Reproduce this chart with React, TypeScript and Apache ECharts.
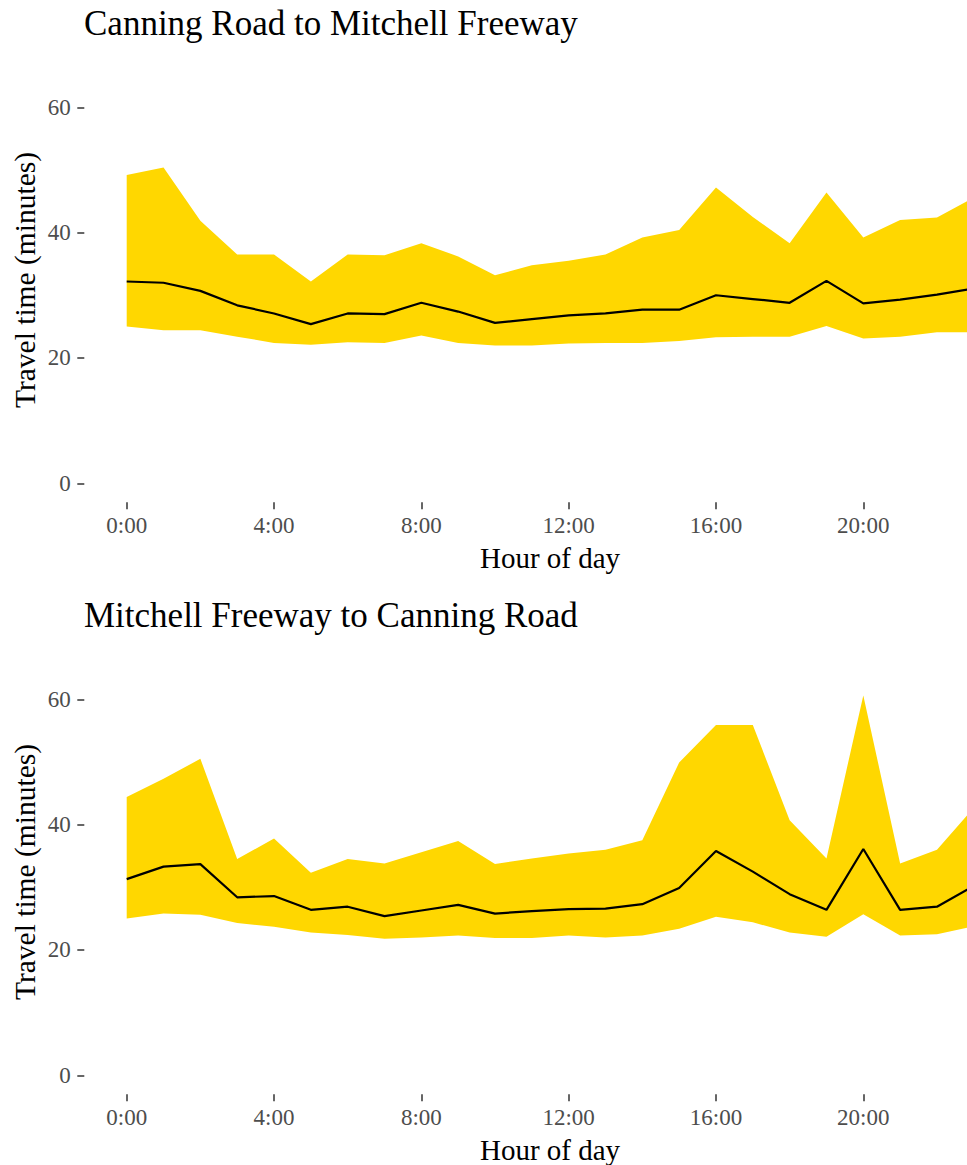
import React, { useEffect, useRef } from "react";
import * as echarts from "echarts";

const hours = [0, 1, 2, 3, 4, 5, 6, 7, 8, 9, 10, 11, 12, 13, 14, 15, 16, 17, 18, 19, 20, 21, 22, 23];
const xTicks = [0, 4, 8, 12, 16, 20];
const yTicks = [0, 20, 40, 60];

const titles = ["Canning Road to Mitchell Freeway", "Mitchell Freeway to Canning Road"];

// Canning Road -> Mitchell Freeway
const upperA = [49.2, 50.4, 41.9, 36.5, 36.5, 32.2, 36.5, 36.4, 38.3, 36.2, 33.2, 34.8, 35.5, 36.5, 39.2, 40.4, 47.2, 42.5, 38.3, 46.4, 39.2, 42.0, 42.4, 45.6];
const medianA = [32.2, 32.0, 30.7, 28.4, 27.1, 25.4, 27.1, 27.0, 28.8, 27.4, 25.6, 26.2, 26.8, 27.1, 27.7, 27.7, 30.0, 29.4, 28.8, 32.3, 28.7, 29.3, 30.1, 31.1];
const lowerA = [25.0, 24.4, 24.4, 23.4, 22.4, 22.1, 22.5, 22.4, 23.6, 22.4, 22.0, 22.0, 22.3, 22.4, 22.4, 22.7, 23.3, 23.4, 23.4, 25.1, 23.1, 23.4, 24.1, 24.1];

// Mitchell Freeway -> Canning Road
const upperB = [44.4, 47.3, 50.5, 34.5, 37.8, 32.3, 34.5, 33.8, 35.6, 37.4, 33.7, 34.6, 35.4, 36.0, 37.5, 49.9, 55.9, 55.9, 40.7, 34.6, 60.6, 33.8, 36.0, 42.7];
const medianB = [31.3, 33.3, 33.7, 28.4, 28.6, 26.4, 26.9, 25.4, 26.3, 27.2, 25.8, 26.2, 26.5, 26.6, 27.3, 29.9, 35.8, 32.5, 28.9, 26.4, 36.1, 26.4, 26.9, 30.2];
const lowerB = [25.0, 25.8, 25.6, 24.3, 23.7, 22.8, 22.4, 21.8, 22.0, 22.3, 21.9, 21.9, 22.3, 22.0, 22.3, 23.4, 25.3, 24.4, 22.8, 22.1, 25.7, 22.3, 22.5, 23.8];

const FONT = "'Liberation Serif', 'Times New Roman', serif";
const GOLD = "#FFD700";

export default function App() {
  const ref = useRef<HTMLDivElement>(null);
  useEffect(() => {
    if (!ref.current) return;
    const chart = echarts.init(ref.current, undefined, { renderer: "svg" });

    const panels = [
      { top: 84.5, upper: upperA, median: medianA, lower: lowerA },
      { top: 676.5, upper: upperB, median: medianB, lower: lowerB },
    ];
    const gridH = 398.8;

    const grids: any[] = [];
    const xAxes: any[] = [];
    const yAxes: any[] = [];
    const series: any[] = [];
    const graphics: any[] = [];

    panels.forEach((p, i) => {
      const shift = i * 592;
      grids.push({ left: 126.7, right: -6.8, top: p.top, height: gridH, containLabel: false, outerBoundsMode: "none" });
      xAxes.push({
        type: "value",
        gridIndex: i,
        min: 0,
        max: 23,
        interval: 4,
        offset: 19,
        axisLine: { show: false, onZero: false },
        splitLine: { show: false },
        axisTick: { show: true, length: 7, customValues: xTicks, lineStyle: { color: "#333333", width: 1.5 } },
        axisLabel: {
          customValues: xTicks,
          formatter: (v: number) => `${v}:00`,
          color: "#4D4D4D",
          fontFamily: FONT,
          fontSize: 23,
          margin: 12,
        },
      });
      yAxes.push({
        type: "value",
        gridIndex: i,
        min: 0,
        max: 63.63,
        interval: 20,
        offset: 42.4,
        axisLine: { show: false, onZero: false },
        splitLine: { show: false },
        axisTick: { show: true, length: 7, customValues: yTicks, lineStyle: { color: "#333333", width: 1.5 } },
        axisLabel: {
          customValues: yTicks,
          color: "#4D4D4D",
          fontFamily: FONT,
          fontSize: 23,
          margin: 13.5,
        },
      });
      const bandData = hours.map((h, k) => [h, p.lower[k], p.upper[k]]);
      series.push({
        type: "custom",
        xAxisIndex: i,
        yAxisIndex: i,
        silent: true,
        z: 1,
        encode: { x: 0, y: [1, 2] },
        data: bandData,
        renderItem: (params: any, api: any) => {
          if (params.dataIndex !== 0) return null;
          const top = bandData.map((d) => api.coord([d[0], d[2]]));
          const bottom = bandData.map((d) => api.coord([d[0], d[1]])).reverse();
          return {
            type: "polygon",
            shape: { points: top.concat(bottom) },
            style: { fill: GOLD, stroke: null },
          };
        },
      });
      series.push({
        type: "line",
        xAxisIndex: i,
        yAxisIndex: i,
        symbol: "none",
        lineStyle: { width: 2.2, color: "#000000" },
        data: hours.map((h, k) => [h, p.median[k]]),
        silent: true,
        z: 3,
      });

      graphics.push({
        type: "text",
        x: 84,
        y: 23 + shift,
        style: { text: titles[i], font: `35px ${FONT}`, fill: "#000000", verticalAlign: "middle" },
      });
      graphics.push({
        type: "text",
        x: 25,
        y: 280 + shift,
        rotation: Math.PI / 2,
        style: {
          text: "Travel time (minutes)",
          font: `29.5px ${FONT}`,
          fill: "#000000",
          align: "center",
          verticalAlign: "middle",
        },
      });
      graphics.push({
        type: "text",
        x: 550,
        y: 557.5 + shift,
        style: {
          text: "Hour of day",
          font: `29px ${FONT}`,
          fill: "#000000",
          align: "center",
          verticalAlign: "middle",
        },
      });
    });

    chart.setOption({
      animation: false,
      backgroundColor: "#ffffff",
      grid: grids,
      xAxis: xAxes,
      yAxis: yAxes,
      series,
      graphic: graphics,
    });
    return () => chart.dispose();
  }, []);

  return (
    <div
      ref={ref}
      style={{ position: "fixed", left: 0, top: 0, width: 967, height: 1165, background: "#fff" }}
    />
  );
}
